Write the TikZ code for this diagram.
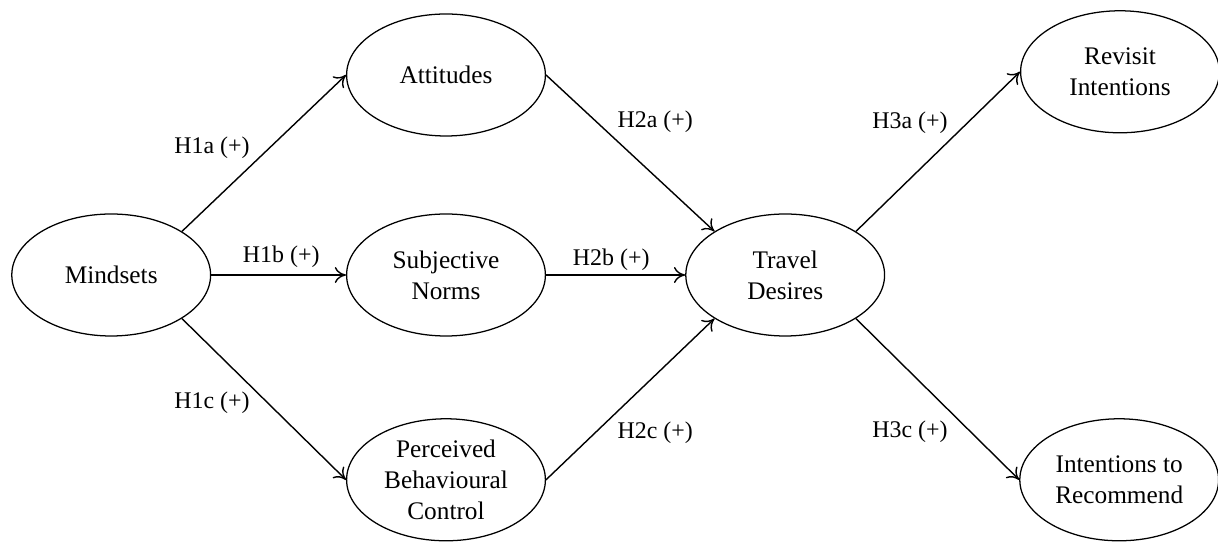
\documentclass[tikz,border=0pt]{standalone}
\usepackage{fontspec}
\setmainfont{Liberation Serif}
\usetikzlibrary{shapes.geometric}
\usetikzlibrary{arrows.meta}

\begin{document}
\begin{tikzpicture}[
    construct/.style={draw, ellipse, line width=0.9pt, minimum width=4.97cm,
        minimum height=3.05cm, inner sep=0pt, align=center,
        font=\fontsize{18}{22}\selectfont},
    hyp/.style={font=\fontsize{17}{20}\selectfont},
    link/.style={line width=1pt, -{To[length=2.8mm,width=4mm]}}]
    \useasboundingbox (0,0) rectangle (30.45,13.575);
    % --- CONSTRUCTS ---
    \node[construct] (mind) at (2.78,6.7) {Mindsets};
    \node[construct] (att)  at (11.15,11.7) {Attitudes};
    \node[construct] (sn)   at (11.15,6.7) {Subjective\\Norms};
    \node[construct] (pbc)  at (11.15,1.58) {Perceived\\Behavioural\\Control};
    \node[construct] (td)   at (19.63,6.7) {Travel\\Desires};
    \node[construct] (ri)   at (28.0,11.78) {Revisit\\Intentions};
    \node[construct] (ir)   at (27.98,1.58) {Intentions to\\Recommend};

    % --- PATHS ---
    \draw[link] (mind.north east) -- (att.west);
    \draw[link] (mind.east) -- (sn.west);
    \draw[link] (mind.south east) -- (pbc.west);
    \draw[link] (att.east) -- (td.north west);
    \draw[link] (sn.east) -- (td.west);
    \draw[link] (pbc.east) -- (td.south west);
    \draw[link] (td.north east) -- (ri.west);
    \draw[link] (td.south east) -- (ir.west);

    % --- HYPOTHESES ---
    \node[hyp] (h1a) at (5.3,9.88) {H1a (+)};
    \node[hyp] (h1b) at (7.03,7.15) {H1b (+)};
    \node[hyp] (h1c) at (5.3,3.5) {H1c (+)};
    \node[hyp] (h2a) at (16.38,10.53) {H2a (+)};
    \node[hyp] (h2b) at (15.28,7.08) {H2b (+)};
    \node[hyp] (h2c) at (16.38,2.75) {H2c (+)};
    \node[hyp] (h3a) at (22.75,10.5) {H3a (+)};
    \node[hyp] (h3c) at (22.75,2.78) {H3c (+)};
\end{tikzpicture}
\end{document}
